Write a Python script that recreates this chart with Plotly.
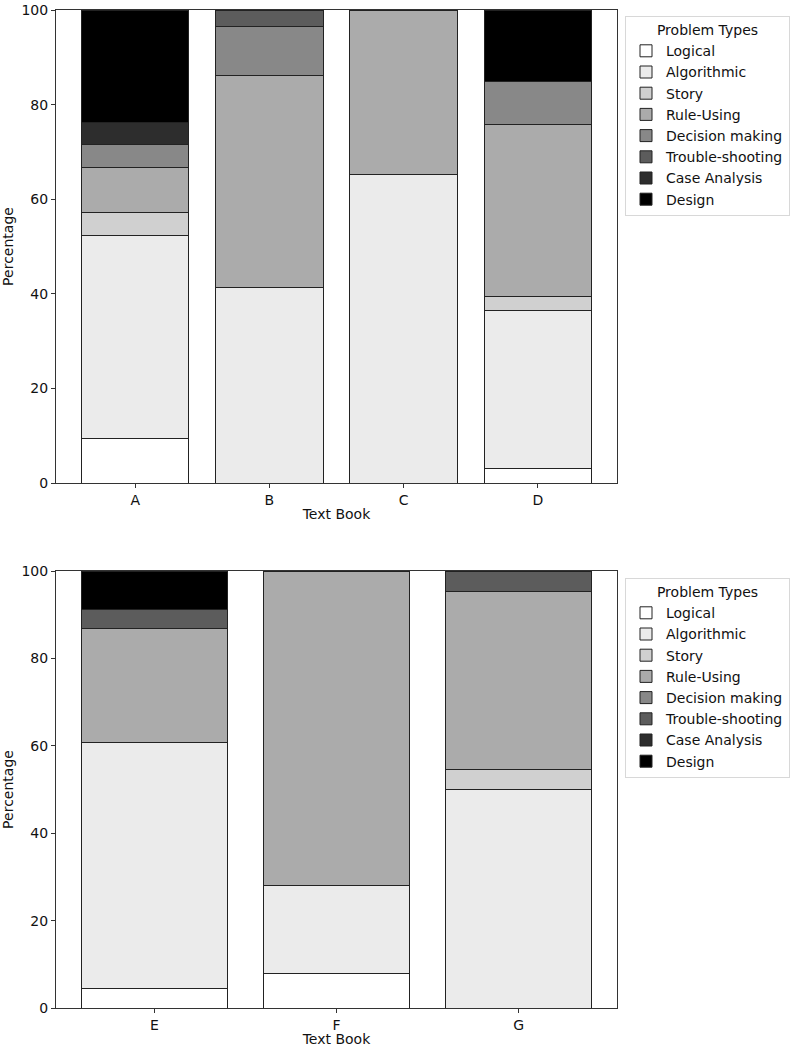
import plotly.graph_objects as go

problem_types = ["Logical", "Algorithmic", "Story", "Rule-Using",
                 "Decision making", "Trouble-shooting", "Case Analysis", "Design"]
colors = ["#ffffff", "#ebebeb", "#d0d0d0", "#ababab",
          "#888888", "#5c5c5c", "#2d2d2d", "#000000"]

books_top = ["A", "B", "C", "D"]
books_bottom = ["E", "F", "G"]

# percentage per problem type, in order of books
logical_top = [9.5, 0, 0, 3.0]
algorithmic_top = [42.9, 41.4, 65.2, 33.4]
story_top = [4.8, 0, 0, 3.0]
rule_top = [9.5, 44.8, 34.8, 36.4]
decision_top = [4.8, 10.4, 0, 9.0]
trouble_top = [0, 3.4, 0, 0]
case_top = [4.7, 0, 0, 0]
design_top = [23.8, 0, 0, 15.2]

logical_bottom = [4.35, 8.0, 0]
algorithmic_bottom = [56.5, 20.0, 50.0]
story_bottom = [0, 0, 4.5]
rule_bottom = [26.1, 72.0, 40.9]
decision_bottom = [0, 0, 0]
trouble_bottom = [4.35, 0, 4.6]
case_bottom = [0, 0, 0]
design_bottom = [8.7, 0, 0]

top_series = [logical_top, algorithmic_top, story_top, rule_top,
              decision_top, trouble_top, case_top, design_top]
bottom_series = [logical_bottom, algorithmic_bottom, story_bottom, rule_bottom,
                 decision_bottom, trouble_bottom, case_bottom, design_bottom]

W, H = 800, 1047


def px(x):
    return x / W


def py(y):
    return 1 - y / H


fig = go.Figure()

for name, col, vals in zip(problem_types, colors, top_series):
    fig.add_trace(go.Bar(x=books_top, y=vals, name=name, marker_color=col,
                         marker_line=dict(color="#222222", width=1),
                         xaxis="x", yaxis="y", legend="legend"))
for name, col, vals in zip(problem_types, colors, bottom_series):
    fig.add_trace(go.Bar(x=books_bottom, y=vals, name=name, marker_color=col,
                         marker_line=dict(color="#222222", width=1),
                         xaxis="x2", yaxis="y2", legend="legend2"))

font = dict(family="DejaVu Sans", size=14, color="#111111")
axis_common = dict(showline=True, linecolor="#333333", linewidth=1, mirror=True,
                   showgrid=False, zeroline=False, ticks="outside", ticklen=4,
                   tickcolor="#333333", tickfont=font, automargin=False)

xd = [px(56), px(617)]
legend_common = dict(xanchor="left", yanchor="top",
                     title=dict(text="Problem Types", side="top center", font=font),
                     bgcolor="white", bordercolor="#d8d8d8", borderwidth=1,
                     font=font, traceorder="normal", tracegroupgap=0)
fig.update_layout(
    width=W, height=H,
    margin=dict(l=0, r=0, t=0, b=0),
    paper_bgcolor="white", plot_bgcolor="white",
    barmode="stack", bargap=0.2,
    font=font,
    xaxis=dict(domain=xd, anchor="y", range=[-0.59, 3.59],
               title=dict(text="Text Book", font=font, standoff=2), **axis_common),
    yaxis=dict(domain=[py(483), py(10)], anchor="x", range=[0, 100],
               tickvals=[0, 20, 40, 60, 80, 100],
               title=dict(text="Percentage", font=font, standoff=6), **axis_common),
    xaxis2=dict(domain=xd, anchor="y2", range=[-0.54, 2.54],
                title=dict(text="Text Book", font=font, standoff=2), **axis_common),
    yaxis2=dict(domain=[py(1008), py(571)], anchor="x2", range=[0, 100],
                tickvals=[0, 20, 40, 60, 80, 100],
                title=dict(text="Percentage", font=font, standoff=6), **axis_common),
    legend=dict(x=px(625), y=py(16), **legend_common),
    legend2=dict(x=px(625), y=py(578), **legend_common),
)

fig.write_html("out.html",
               config={"displayModeBar": False},
               post_script="document.body.style.margin='0';"
                           "document.body.style.overflow='hidden';")
